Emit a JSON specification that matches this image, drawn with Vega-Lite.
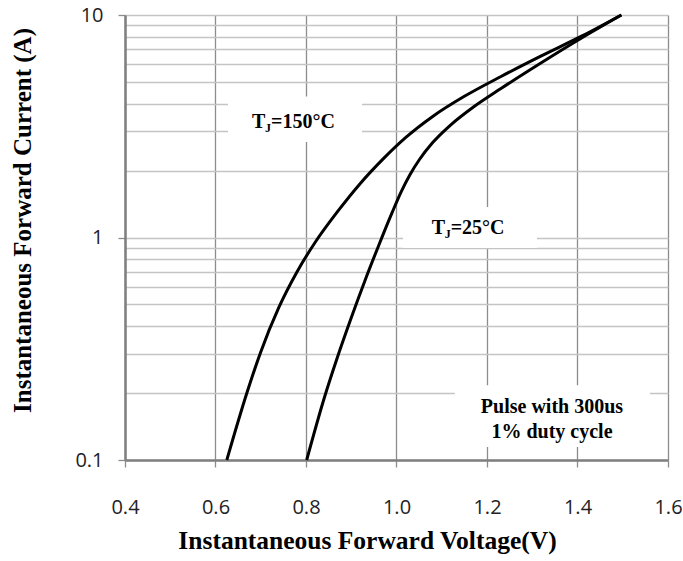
{
  "$schema": "https://vega.github.io/schema/vega-lite/v6.json",
  "width": 543,
  "height": 445,
  "autosize": "none",
  "padding": {"left": 125, "top": 15, "right": 15, "bottom": 101},
  "background": "white",
  "config": {"view": {"stroke": null}},
  "datasets": {
    "curves": [
      {"series": "150", "v": 0.625, "i": 0.1},
      {"series": "150", "v": 0.67, "i": 0.202},
      {"series": "150", "v": 0.70, "i": 0.306},
      {"series": "150", "v": 0.74, "i": 0.485},
      {"series": "150", "v": 0.78, "i": 0.70},
      {"series": "150", "v": 0.82, "i": 0.95},
      {"series": "150", "v": 0.87, "i": 1.31},
      {"series": "150", "v": 0.92, "i": 1.75},
      {"series": "150", "v": 0.97, "i": 2.25},
      {"series": "150", "v": 1.02, "i": 2.81},
      {"series": "150", "v": 1.08, "i": 3.5},
      {"series": "150", "v": 1.15, "i": 4.31},
      {"series": "150", "v": 1.23, "i": 5.28},
      {"series": "150", "v": 1.32, "i": 6.55},
      {"series": "150", "v": 1.41, "i": 8.05},
      {"series": "150", "v": 1.497, "i": 10.0},
      {"series": "25", "v": 0.8015, "i": 0.1},
      {"series": "25", "v": 0.84, "i": 0.189},
      {"series": "25", "v": 0.87, "i": 0.292},
      {"series": "25", "v": 0.90, "i": 0.436},
      {"series": "25", "v": 0.93, "i": 0.638},
      {"series": "25", "v": 0.96, "i": 0.914},
      {"series": "25", "v": 0.99, "i": 1.29},
      {"series": "25", "v": 1.01, "i": 1.6},
      {"series": "25", "v": 1.03, "i": 1.92},
      {"series": "25", "v": 1.05, "i": 2.23},
      {"series": "25", "v": 1.08, "i": 2.67},
      {"series": "25", "v": 1.12, "i": 3.21},
      {"series": "25", "v": 1.17, "i": 3.86},
      {"series": "25", "v": 1.23, "i": 4.66},
      {"series": "25", "v": 1.32, "i": 6.1},
      {"series": "25", "v": 1.41, "i": 7.9},
      {"series": "25", "v": 1.497, "i": 10.0}
    ],
    "boxes": [
      {"v1": 0.6276, "v2": 0.9237, "i1": 2.69, "i2": 4.3},
      {"v1": 1.0144, "v2": 1.3105, "i1": 0.897, "i2": 1.37},
      {"v1": 1.129, "v2": 1.56, "i1": 0.1144, "i2": 0.217}
    ],
    "tj": [
      {"v": 0.6807, "i": 3.3, "rest": "=150°C"},
      {"v": 1.0778, "i": 1.109, "rest": "=25°C"}
    ],
    "pulse": [
      {"v": 1.3436, "i": 0.173, "t": "Pulse with 300us"},
      {"v": 1.3436, "i": 0.1336, "t": "1% duty cycle"}
    ]
  },
  "layer": [
    {
      "data": {"name": "boxes"},
      "mark": {"type": "rect", "color": "white", "opacity": 1},
      "encoding": {
        "x": {
          "field": "v1", "type": "quantitative",
          "scale": {"domain": [0.4, 1.6], "nice": false, "zero": false},
          "axis": {
            "values": [0.4, 0.6, 0.8, 1.0, 1.2, 1.4, 1.6],
            "format": ".1f",
            "title": "Instantaneous Forward Voltage(V)",
            "grid": true,
            "gridColor": "#8c8c8c",
            "gridWidth": 1.3,
            "domainColor": "#7f7f7f",
            "domainWidth": 2.5,
            "tickColor": "#8c8c8c",
            "tickSize": 7,
            "tickWidth": 1.3,
            "labelFont": "Open Sans",
            "labelFontSize": 20,
            "labelColor": "#222222",
            "labelPadding": 30,
            "labelFlush": false,
            "titleFont": "Liberation Serif",
            "titleFontWeight": "bold",
            "titleFontSize": 25.5,
            "titleColor": "black",
            "titleX": 242,
            "titleY": 88,
            "titleBaseline": "alphabetic"
          }
        },
        "x2": {"field": "v2"},
        "y": {
          "field": "i1", "type": "quantitative",
          "scale": {"type": "log", "domain": [0.1, 10], "nice": false},
          "axis": {
            "values": [0.1, 0.2, 0.3, 0.4, 0.5, 0.6, 0.7, 0.8, 0.9, 1, 2, 3, 4, 5, 6, 7, 8, 9, 10],
            "labelExpr": "datum.value == 0.1 ? '0.1' : datum.value == 1 ? '1' : datum.value == 10 ? '10' : ''",
            "title": "Instantaneous Forward Current (A)",
            "grid": true,
            "gridColor": "#c4c4c4",
            "gridWidth": 1.3,
            "domainColor": "#7f7f7f",
            "domainWidth": 2.5,
            "tickColor": "#8c8c8c",
            "tickSize": 7,
            "tickWidth": 1.3,
            "tickOpacity": {"condition": {"test": "datum.value == 0.1 || datum.value == 1 || datum.value == 10", "value": 1}, "value": 0},
            "labelFont": "Open Sans",
            "labelFontSize": 20,
            "labelColor": "#222222",
            "labelPadding": 15,
            "labelFlush": false,
            "titleFont": "Liberation Serif",
            "titleFontWeight": "bold",
            "titleFontSize": 25,
            "titleColor": "black",
            "titleX": -95,
            "titleY": 205,
            "titleAngle": 270,
            "titleBaseline": "alphabetic"
          }
        },
        "y2": {"field": "i2"}
      }
    },
    {
      "data": {"name": "curves"},
      "mark": {"type": "line", "color": "black", "strokeWidth": 3, "interpolate": "monotone"},
      "encoding": {
        "x": {"field": "v", "type": "quantitative"},
        "y": {"field": "i", "type": "quantitative"},
        "detail": {"field": "series"}
      }
    },
    {
      "mark": {"type": "rule", "color": "black", "strokeWidth": 3},
      "encoding": {"y": {"datum": 10}}
    },
    {
      "mark": {"type": "rule", "color": "black", "strokeWidth": 3},
      "encoding": {"x": {"datum": 1.6}}
    },
    {
      "data": {"name": "tj"},
      "mark": {"type": "text", "text": "T", "font": "Liberation Serif", "fontWeight": "bold", "fontSize": 20, "align": "left", "baseline": "middle", "color": "black"},
      "encoding": {"x": {"field": "v", "type": "quantitative"}, "y": {"field": "i", "type": "quantitative"}}
    },
    {
      "data": {"name": "tj"},
      "mark": {"type": "text", "text": "J", "font": "Liberation Serif", "fontWeight": "bold", "fontSize": 12, "align": "left", "baseline": "middle", "dx": 13, "dy": 6, "color": "black"},
      "encoding": {"x": {"field": "v", "type": "quantitative"}, "y": {"field": "i", "type": "quantitative"}}
    },
    {
      "data": {"name": "tj"},
      "mark": {"type": "text", "font": "Liberation Serif", "fontWeight": "bold", "fontSize": 20, "align": "left", "baseline": "middle", "dx": 19, "color": "black"},
      "encoding": {"x": {"field": "v", "type": "quantitative"}, "y": {"field": "i", "type": "quantitative"}, "text": {"field": "rest"}}
    },
    {
      "data": {"name": "pulse"},
      "mark": {"type": "text", "font": "Liberation Serif", "fontWeight": "bold", "fontSize": 20, "align": "center", "baseline": "middle", "color": "black"},
      "encoding": {"x": {"field": "v", "type": "quantitative"}, "y": {"field": "i", "type": "quantitative"}, "text": {"field": "t"}}
    }
  ]
}
